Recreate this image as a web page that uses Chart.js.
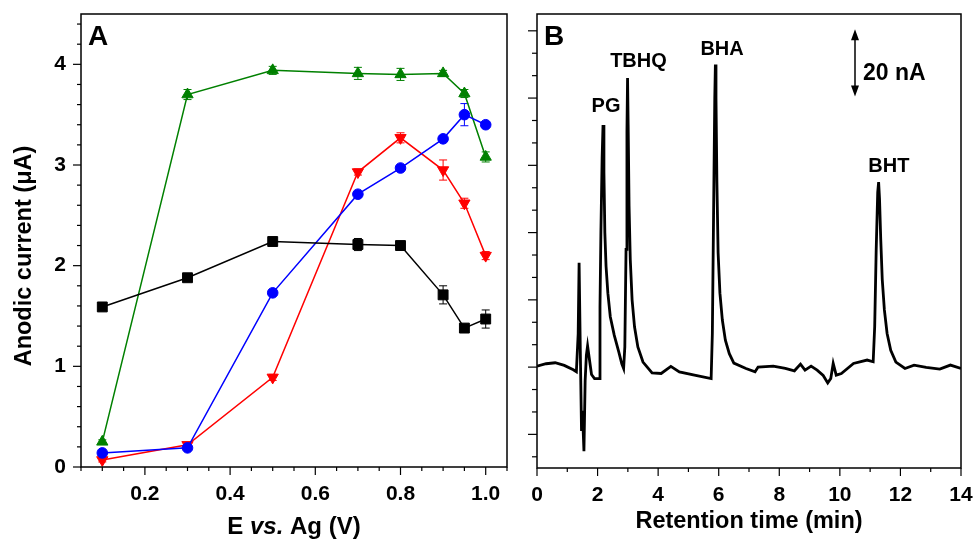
<!DOCTYPE html>
<html>
<head>
<meta charset="utf-8">
<script src="https://cdn.jsdelivr.net/npm/chart.js@4.4.1/dist/chart.umd.min.js"></script>
<style>
  body { margin: 0; background: #fff; }
  #wrapA { position: absolute; left: 0; top: 0; width: 515px; height: 539px; }
  #wrapB { position: absolute; left: 515px; top: 0; width: 460px; height: 539px; }
</style>
</head>
<body>
<div id="wrapA"><canvas id="chartA"></canvas></div>
<div id="wrapB"><canvas id="chartB"></canvas></div>
<script>
// --- Panel A: anodic current vs. detection potential ---
const potentials = [0.1, 0.3, 0.5, 0.7, 0.8, 0.9, 0.95, 1.0];
const currBlack = [1.59, 1.88, 2.24, 2.21, 2.20, 1.71, 1.38, 1.47];
const currGreen = [0.25, 3.70, 3.94, 3.91, 3.90, 3.91, 3.71, 3.08];
const currBlue  = [0.14, 0.19, 1.73, 2.71, 2.97, 3.26, 3.50, 3.40];
const currRed   = [0.07, 0.22, 0.89, 2.93, 3.27, 2.95, 2.62, 2.10];
const errBlack = [0.02, 0.03, 0.03, 0.06, 0.03, 0.09, 0.03, 0.09];
const errGreen = [0.02, 0.05, 0.04, 0.06, 0.06, 0.03, 0.04, 0.05];
const errBlue  = [0.02, 0.02, 0.03, 0.03, 0.03, 0.03, 0.11, 0.03];
const errRed   = [0.02, 0.02, 0.03, 0.03, 0.05, 0.10, 0.05, 0.04];
const xTicksA = [0.2, 0.4, 0.6, 0.8, 1.0];
const yTicksA = [0, 1, 2, 3, 4];

// --- Panel B: chromatogram (retention time in min, signal in nA) ---
const rt = [
  0, 0.3, 0.6, 0.9, 1.2, 1.3, 1.36, 1.39, 1.43, 1.47,
  1.5, 1.55, 1.59, 1.63, 1.67, 1.72, 1.8, 1.9, 2.05, 2.08,
  2.11, 2.15, 2.18, 2.21, 2.24, 2.28, 2.34, 2.42, 2.55, 2.7,
  2.8, 2.86, 2.9, 2.94, 2.97, 2.99, 3.01, 3.04, 3.08, 3.14,
  3.22, 3.33, 3.5, 3.8, 4.1, 4.42, 4.7, 5.2, 5.75, 5.79,
  5.83, 5.87, 5.89, 5.91, 5.94, 5.98, 6.04, 6.12, 6.22, 6.35,
  6.5, 6.9, 7.2, 7.3, 7.8, 8.2, 8.5, 8.7, 8.85, 9.05,
  9.25, 9.45, 9.6, 9.7, 9.78, 9.88, 10.05, 10.45, 10.9, 11.1,
  11.15, 11.2, 11.25, 11.28, 11.31, 11.35, 11.4, 11.47, 11.56, 11.68,
  11.85, 12.15, 12.45, 12.85, 13.3, 13.65, 14
];
const signal = [
  0.3, 1.0, 1.3, 0.5, -0.8, -1.4, 10, 31, 5, -19,
  -13, -25, -4, 3.5, 6.3, 3, -2.2, -3.4, -3.4, 18,
  40, 62, 72, 58, 40, 30, 22, 15, 9.5, 4.5,
  1, -0.4, 6, 35, 70, 86, 72, 48, 32, 20,
  12, 6, 1.5, -1.7, -1.9, 0.2, -1.4, -2.4, -3.4, 10,
  45, 80, 90, 80, 55, 34, 22, 14, 8, 4,
  1.2, -0.4, -1.4, 0, 0.3, -0.4, -1.1, 0.9, -0.9, 0.3,
  -0.9, -2.5, -4.7, -3.4, 1.1, -2.4, -1.9, 1.1, 2.1, 1.6,
  12, 35, 52, 55, 50, 38, 26, 17, 10, 5,
  1.5, -0.4, 0.6, -0.1, -0.6, 0.6, -0.4
];
const xTicksB = [0, 2, 4, 6, 8, 10, 12, 14];
const peakNames = ['PG', 'TBHQ', 'BHA', 'BHT'];

const FF = "'Liberation Sans', Arial, sans-serif";
Chart.defaults.color = '#000';
Chart.defaults.font.family = FF;
Chart.defaults.animation = false;

// box round the plot area + major/minor tick marks pointing outwards
const frameTicks = {
  id: 'frameTicks',
  afterDraw(chart, args, opts) {
    const ctx = chart.ctx, a = chart.chartArea;
    ctx.save();
    ctx.strokeStyle = '#000';
    ctx.lineWidth = 1.5;
    ctx.strokeRect(a.left, a.top, a.right - a.left, a.bottom - a.top);
    ctx.lineWidth = 1.2;
    opts.marks.forEach(m => {
      const s = chart.scales[m.axis];
      const n = Math.round((m.to - m.from) / m.step);
      for (let i = 0; i <= n; i++) {
        const v = m.from + i * m.step;
        const q = v / m.majorStep;
        const len = Math.abs(q - Math.round(q)) < 1e-6 ? m.major : m.minor;
        const p = s.getPixelForValue(v);
        ctx.beginPath();
        if (s.isHorizontal()) {
          ctx.moveTo(p, a.bottom); ctx.lineTo(p, a.bottom + len);
        } else {
          ctx.moveTo(a.left - len, p); ctx.lineTo(a.left, p);
        }
        ctx.stroke();
      }
    });
    ctx.restore();
  }
};

// error bars for panel A
const errorBars = {
  id: 'errorBars',
  beforeDatasetsDraw(chart) {
    const ctx = chart.ctx, x = chart.scales.x, y = chart.scales.y;
    chart.data.datasets.forEach(ds => {
      if (!ds.errors) return;
      ctx.save();
      ctx.strokeStyle = ds.borderColor;
      ctx.lineWidth = 1;
      ds.data.forEach((p, i) => {
        const e = ds.errors[i];
        const px = x.getPixelForValue(p.x);
        const y1 = y.getPixelForValue(p.y - e), y2 = y.getPixelForValue(p.y + e);
        ctx.beginPath();
        ctx.moveTo(px, y1); ctx.lineTo(px, y2);
        ctx.moveTo(px - 4, y1); ctx.lineTo(px + 4, y1);
        ctx.moveTo(px - 4, y2); ctx.lineTo(px + 4, y2);
        ctx.stroke();
      });
      ctx.restore();
    });
  }
};

const textA = {
  id: 'textA',
  afterDraw(chart) {
    const ctx = chart.ctx, a = chart.chartArea;
    ctx.save();
    ctx.fillStyle = '#000';
    ctx.textBaseline = 'alphabetic';
    ctx.font = 'bold 28px ' + FF;
    ctx.fillText('A', a.left + 7, a.top + 31);
    // x title with italic "vs."
    const parts = [['E ', 'bold 24px ' + FF], ['vs.', 'italic bold 24px ' + FF], [' Ag (V)', 'bold 24px ' + FF]];
    let w = 0;
    parts.forEach(p => { ctx.font = p[1]; w += ctx.measureText(p[0]).width; });
    let x = (a.left + a.right) / 2 - w / 2;
    parts.forEach(p => { ctx.font = p[1]; ctx.fillText(p[0], x, 534); x += ctx.measureText(p[0]).width; });
    // y title, sits a little below the middle of the axis
    ctx.translate(25, 256);
    ctx.rotate(-Math.PI / 2);
    ctx.textAlign = 'center';
    ctx.textBaseline = 'middle';
    ctx.font = 'bold 23.5px ' + FF;
    ctx.fillText('Anodic current (μA)', 0, 0);
    ctx.restore();
  }
};

const textB = {
  id: 'textB',
  afterDraw(chart, args, opts) {
    const ctx = chart.ctx, a = chart.chartArea, xs = chart.scales.x, ys = chart.scales.y;
    ctx.save();
    ctx.fillStyle = '#000';
    ctx.strokeStyle = '#000';
    ctx.textBaseline = 'alphabetic';
    ctx.font = 'bold 28px ' + FF;
    ctx.fillText('B', a.left + 7, a.top + 31);
    ctx.font = 'bold 20px ' + FF;
    ctx.textAlign = 'center';
    opts.labels.forEach(l => ctx.fillText(l.text, xs.getPixelForValue(l.t), ys.getPixelForValue(l.v)));
    // 20 nA scale bar
    const bx = xs.getPixelForValue(opts.bar.t);
    const yTop = ys.getPixelForValue(opts.bar.v), yBot = ys.getPixelForValue(opts.bar.v - 20);
    ctx.lineWidth = 1.5;
    ctx.beginPath(); ctx.moveTo(bx, yTop + 4); ctx.lineTo(bx, yBot - 4); ctx.stroke();
    ctx.beginPath();
    ctx.moveTo(bx, yTop); ctx.lineTo(bx - 4, yTop + 11); ctx.lineTo(bx + 4, yTop + 11); ctx.closePath();
    ctx.moveTo(bx, yBot); ctx.lineTo(bx - 4, yBot - 11); ctx.lineTo(bx + 4, yBot - 11); ctx.closePath();
    ctx.fill();
    ctx.textAlign = 'left';
    ctx.font = 'bold 23px ' + FF;
    ctx.fillText('20 nA', bx + 8, 80);
    ctx.restore();
  }
};

function series(color, ys, errs, style, radius, rot) {
  return {
    data: potentials.map((p, i) => ({ x: p, y: ys[i] })),
    errors: errs,
    borderColor: color,
    backgroundColor: color,
    borderWidth: 1.5,
    pointStyle: style,
    pointRadius: radius,
    pointRotation: rot || 0,
    pointBorderWidth: 1,
    tension: 0
  };
}

// fixed axis box sizes, no automatic label overhang padding
function fixBox(size) {
  return s => {
    if (s.isHorizontal()) s.height = size; else s.width = size;
    s.paddingTop = 0; s.paddingBottom = 0; s.paddingLeft = 0; s.paddingRight = 0;
  };
}

new Chart(document.getElementById('chartA'), {
  type: 'line',
  data: {
    datasets: [
      series('#000000', currBlack, errBlack, 'rect', 7),
      series('#0000ff', currBlue, errBlue, 'circle', 5.3),
      series('#ff0000', currRed, errRed, 'triangle', 6.5, 180),
      series('#008000', currGreen, errGreen, 'triangle', 6.5)
    ]
  },
  options: {
    responsive: true,
    maintainAspectRatio: false,
    layout: { padding: { top: 14, right: 8, left: 0, bottom: 0 } },
    plugins: {
      legend: { display: false },
      tooltip: { enabled: false },
      frameTicks: {
        marks: [
          { axis: 'x', from: 0.05, to: 1.05, step: 0.05, majorStep: 0.2, major: 8, minor: 4 },
          { axis: 'y', from: 0, to: 4.4, step: 0.2, majorStep: 1, major: 8, minor: 4 }
        ]
      }
    },
    scales: {
      x: {
        type: 'linear', min: 0.05, max: 1.05,
        grid: { display: false, drawTicks: false },
        border: { display: false },
        afterBuildTicks: s => { s.ticks = xTicksA.map(v => ({ value: v })); },
        afterFit: fixBox(72),
        ticks: { autoSkip: false, maxRotation: 0, padding: 15, font: { size: 21, weight: 'bold' },
                 callback: v => v.toFixed(1) }
      },
      y: {
        min: 0, max: 4.5,
        grid: { display: false, drawTicks: false },
        border: { display: false },
        afterBuildTicks: s => { s.ticks = yTicksA.map(v => ({ value: v })); },
        afterFit: fixBox(81),
        ticks: { autoSkip: false, padding: 15, font: { size: 21, weight: 'bold' } }
      }
    }
  },
  plugins: [errorBars, frameTicks, textA]
});

new Chart(document.getElementById('chartB'), {
  type: 'line',
  data: {
    datasets: [{
      data: rt.map((t, i) => ({ x: t, y: signal[i] })),
      borderColor: '#000',
      borderWidth: 2.8,
      pointRadius: 0,
      tension: 0
    }]
  },
  options: {
    responsive: true,
    maintainAspectRatio: false,
    layout: { padding: { top: 14, right: 14, left: 0, bottom: 0 } },
    plugins: {
      legend: { display: false },
      tooltip: { enabled: false },
      frameTicks: {
        marks: [
          { axis: 'x', from: 0, to: 14, step: 1, majorStep: 2, major: 8, minor: 4 },
          { axis: 'y', from: -80 / 3, to: 100, step: 20 / 3, majorStep: 20, major: 9, minor: 5 }
        ]
      },
      textB: {
        labels: [
          { text: peakNames[0], t: 2.28, v: 75.9 },
          { text: peakNames[1], t: 3.35, v: 89.3 },
          { text: peakNames[2], t: 6.11, v: 92.9 },
          { text: peakNames[3], t: 11.62, v: 58.0 }
        ],
        bar: { t: 10.5, v: 100.5 }
      }
    },
    scales: {
      x: {
        type: 'linear', min: 0, max: 14,
        grid: { display: false, drawTicks: false },
        border: { display: false },
        afterBuildTicks: s => { s.ticks = xTicksB.map(v => ({ value: v })); },
        afterFit: fixBox(71),
        ticks: { autoSkip: false, maxRotation: 0, padding: 15, font: { size: 21, weight: 'bold' } },
        title: { display: true, text: 'Retention time (min)', font: { size: 23.5, weight: 'bold' },
                 padding: { top: 0, bottom: 3 } }
      },
      y: {
        min: -30, max: 105,
        grid: { display: false, drawTicks: false },
        border: { display: false },
        afterFit: fixBox(22),
        ticks: { display: false }
      }
    }
  },
  plugins: [frameTicks, textB]
});
</script>
</body>
</html>
